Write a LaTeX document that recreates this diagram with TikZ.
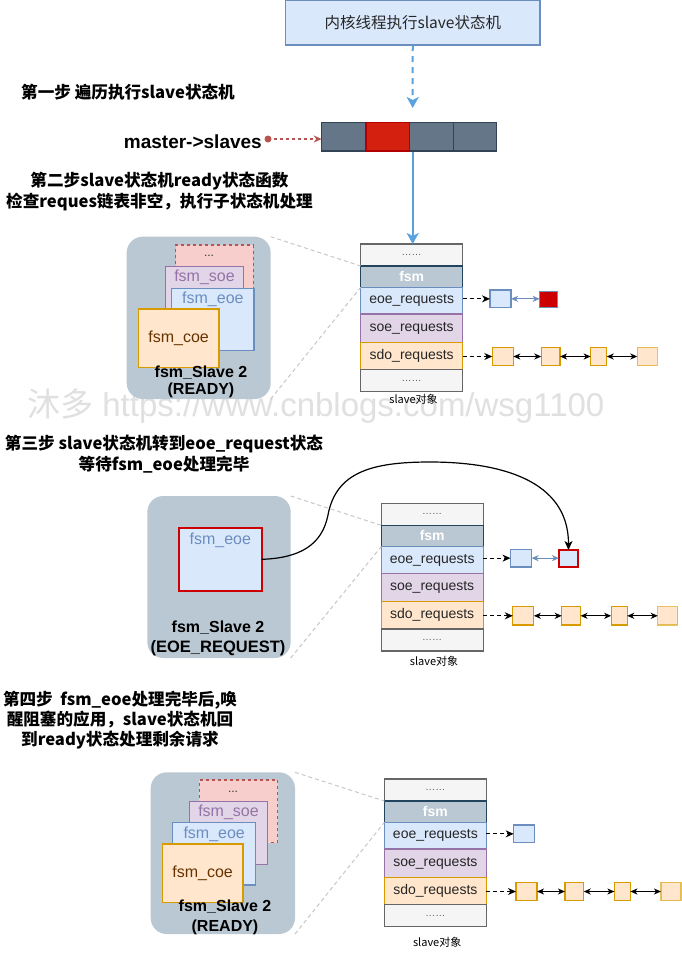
\documentclass[tikz,border=0pt]{standalone}
\usepackage{fontspec}
\setmainfont{Liberation Sans}
\newfontfamily\cjk{Noto Sans CJK SC}
\usetikzlibrary{arrows.meta}
\definecolor{bluefill}{HTML}{DAE8FC}
\definecolor{bluedraw}{HTML}{6C8EBF}
\definecolor{purfill}{HTML}{E1D5E7}
\definecolor{purdraw}{HTML}{9673A6}
\definecolor{orfill}{HTML}{FFE6CC}
\definecolor{ordraw}{HTML}{D79B00}
\definecolor{redfill}{HTML}{F8CECC}
\definecolor{reddraw}{HTML}{B85450}
\definecolor{grpfill}{HTML}{BAC8D3}
\definecolor{grpdraw}{HTML}{23445D}
\definecolor{lgfill}{HTML}{F5F5F5}
\definecolor{lgdraw}{HTML}{666666}
\definecolor{slate}{HTML}{647687}
\definecolor{slatedraw}{HTML}{314354}
\definecolor{hotred}{HTML}{D4200E}
\definecolor{hotreddraw}{HTML}{B20000}
\definecolor{deepred}{HTML}{CC0000}
\definecolor{arrowblue}{HTML}{5AA2DE}
\definecolor{coetext}{HTML}{663300}
\newcommand\drawbx[7]{\node[#1,anchor=north west,minimum width={(#5)-(#3)},minimum height={(#6)-(#4)}] (#2) at (#3,#4) {#7};}
\tikzset{
 bx/.style={inner sep=0pt,outer sep=0pt,line width=1.2pt},
 rowtxt/.style={font=\fontsize{14}{14}\selectfont,text=black!85},
 rowdots/.style={font=\fontsize{10}{10}\selectfont,text=black!65},
 fsmrow/.style={font=\bfseries\fontsize{14}{14}\selectfont,text=white},
 dasharr/.style={draw=black,dash pattern=on 4pt off 3pt,line width=1.2pt,-{Stealth[length=8pt,width=7pt,inset=2.5pt]}},
 dblarr/.style={draw=black,line width=1.2pt,{Stealth[length=7pt,width=6pt,inset=2pt]}-{Stealth[length=7pt,width=6pt,inset=2pt]}},
 grp/.style={bx,fill=grpfill,draw=none,rounded corners=16pt},
 gline/.style={draw=black!22,line width=1pt,dash pattern=on 4pt off 3pt},
 fsmt/.style={font=\fontsize{16}{16}\selectfont,inner sep=0pt},
 slabel/.style={font=\bfseries\fontsize{16}{16}\selectfont,inner sep=0pt},
 steptext/.style={font=\cjk\bfseries\fontsize{16.6}{21}\selectfont,align=center,inner sep=0pt},
 bluearr/.style={draw=arrowblue,line width=2pt,-{Stealth[length=11pt,width=12pt,inset=3pt]}},
 curvearr/.style={draw=black,line width=1.2pt,-{Stealth[length=9pt,width=8pt,inset=2.5pt]}},
}
\newcommand\slaveobj[4]{%
\begin{scope}[shift={(#2,#3)},name prefix=#1-]
\drawbx{bx,fill=lgfill,draw=lgdraw,rowdots}{top}{360.7}{244}{462.7}{266}{……}
\drawbx{bx,fill=grpfill,draw=grpdraw,fsmrow}{fsm}{360.7}{266}{462.7}{287.3}{fsm}
\drawbx{bx,fill=bluefill,draw=bluedraw,rowtxt}{eoe}{360.7}{287.3}{462.7}{314}{eoe\_requests}
\drawbx{bx,fill=purfill,draw=purdraw,rowtxt}{soe}{360.7}{314}{462.7}{342.3}{soe\_requests}
\drawbx{bx,fill=orfill,draw=ordraw,rowtxt}{sdo}{360.7}{342.3}{462.7}{369.7}{sdo\_requests}
\drawbx{bx,fill=lgfill,draw=lgdraw,rowdots}{bot}{360.7}{369.7}{462.7}{391.7}{……}
\node[font=\cjk\fontsize{11}{11}\selectfont,inner sep=0pt] (cap) at (413.5,#4) {slave对象};
\drawbx{bx,fill=bluefill,draw=bluedraw}{e1}{490}{290}{511}{307.7}{}
\drawbx{bx,fill=orfill,draw=ordraw}{b1}{492.3}{347.3}{513.3}{365.7}{}
\drawbx{bx,fill=orfill,draw=ordraw}{b2}{541.3}{347.3}{560}{365.7}{}
\drawbx{bx,fill=orfill,draw=ordraw}{b3}{590.7}{347.3}{606.7}{365.7}{}
\drawbx{bx,fill=orfill,draw=ordraw,draw opacity=0.6}{b4}{637.3}{347.3}{657.3}{365.7}{}
\draw[dasharr] (eoe.east |- e1.west) -- (e1.west);
\draw[dasharr] (sdo.east |- b1.west) -- (b1.west);
\draw[dblarr] (b1.east) -- (b2.west);
\draw[dblarr] (b2.east) -- (b3.west);
\draw[dblarr] (b3.east) -- (b4.west);
\end{scope}}
\begin{document}
\begin{tikzpicture}[x=1pt,y=-1pt]
\useasboundingbox[fill=white] (0,0) rectangle (682,954);
% watermark
\node[anchor=west,font=\fontsize{33}{33}\selectfont,text=black!12,inner sep=0pt] (wm) at (27,406) {{\cjk 沐多} https://www.cnblogs.com/wsg1100};
% top
\drawbx{bx,fill=bluefill,draw=bluedraw,font=\cjk\fontsize{15.5}{15.5}\selectfont,text=black!85}{tb}{285.5}{0.6}{540}{45}{内核线程执行slave状态机}
\coordinate (dashend) at (412.7,108);
\draw[bluearr,dash pattern=on 6pt off 5pt] (tb.south) -- (dashend);
\drawbx{bx,fill=slate,draw=slatedraw}{a1}{321.7}{122.3}{366}{151}{}
\drawbx{bx,fill=slate,draw=slatedraw}{a3}{409.3}{122.3}{453.3}{151}{}
\drawbx{bx,fill=slate,draw=slatedraw}{a4}{453.3}{122.3}{496.7}{151}{}
\drawbx{bx,fill=hotred,draw=hotreddraw}{a2}{366}{122.3}{409.3}{151}{}
\node[font=\bfseries\fontsize{19}{19}\selectfont,anchor=east,inner sep=0pt] (ms) at (262,142) {master->slaves};
\node[circle,fill=reddraw,inner sep=0pt,minimum size=7pt] (msdot) at (268,139) {};
\draw[draw=reddraw,line width=1.3pt,dash pattern=on 3pt off 3pt,-{Stealth[length=8pt,width=7pt,inset=2.5pt]}] (msdot.center) -- (msdot.center -| a1.west);
% steps
\node[steptext,anchor=west] (st1) at (21,92) {第一步 遍历执行slave状态机};
\node[steptext] (st2) at (159.5,191.5) {第二步slave状态机ready状态函数\\检查reques链表非空，执行子状态机处理};
\node[steptext] (st3) at (164,454.5) {第三步 slave状态机转到eoe\_request状态\\等待fsm\_eoe处理完毕};
\node[steptext,font=\cjk\bfseries\fontsize{16.6}{20}\selectfont] (st4) at (120,720) {第四步\ \ fsm\_eoe处理完毕后,唤\\醒阻塞的应用，slave状态机回\\到ready状态处理剩余请求};
% slave objects
\slaveobj{s1}{0}{0}{399.5}
\slaveobj{s2}{20.5}{259.3}{402.4}
\slaveobj{s3}{23.7}{535}{407}
\begin{scope}[name prefix=s1-]
\drawbx{bx,fill=deepred,draw=bluedraw}{e2}{539.7}{291.7}{557.3}{307.7}{}
\draw[dblarr,draw=bluedraw] (e1.east) -- (e1.east -| e2.west);
\end{scope}
\begin{scope}[shift={(20.5,259.3)},name prefix=s2-]
\drawbx{bx,fill=bluefill,draw=deepred,line width=1.5pt}{e2}{538.5}{290.7}{557.5}{307.7}{}
\draw[dblarr,draw=bluedraw] (e1.east) -- (e1.east -| e2.west);
\end{scope}
\coordinate (arrstart) at (412.7,152);
\draw[bluearr] (arrstart) -- (arrstart |- s1-top.north);
% group 1
\drawbx{grp}{g1}{126.7}{236.7}{270.7}{399}{}
\drawbx{bx,fill=redfill,draw=reddraw,dashed}{g1x}{175.7}{245}{253.3}{320}{}
\node[inner sep=0pt,font=\fontsize{12}{12}\selectfont,text=black!80] (g1xt) at (209,256) {...};
\drawbx{bx,fill=purfill,draw=purdraw}{g1s}{165.7}{266.7}{243.3}{330}{}
\node[fsmt,text=purdraw] (g1st) at (204.5,277) {fsm\_soe};
\drawbx{bx,fill=bluefill,draw=bluedraw}{g1e}{171.7}{288.3}{254}{350.7}{}
\node[fsmt,text=bluedraw] (g1et) at (212.9,299) {fsm\_eoe};
\drawbx{bx,fill=orfill,draw=ordraw}{g1c}{138.3}{309}{219}{367.3}{}
\node[fsmt,text=coetext] (g1ct) at (178.6,338) {fsm\_coe};
\node[slabel] (g1n) at (201,373) {fsm\_Slave 2};
\node[slabel] (g1r) at (201,390) {(READY)};
\draw[gline] (g1.north east) -- (s1-fsm.north west);
\draw[gline] (g1.south east) -- (s1-eoe.north west);
% group 2
\drawbx{grp}{g2}{147.3}{496}{290.7}{658}{}
\drawbx{bx,fill=bluefill,draw=deepred,line width=2.2pt}{g2e}{179}{528}{261.7}{590.7}{}
\node[fsmt,text=bluedraw] (g2et) at (220.3,540) {fsm\_eoe};
\node[slabel] (g2n) at (218,628) {fsm\_Slave 2};
\node[slabel,font=\bfseries\fontsize{16.5}{16.5}\selectfont] (g2r) at (218,648) {(EOE\_REQUEST)};
\draw[gline] (g2.north east) -- (s2-fsm.north west);
\draw[gline] (g2.south east) -- (s2-eoe.north west);
\draw[curvearr] (g2e.east) .. controls (300,558) and (322,545) .. (328,515) .. controls (336,472) and (372,462) .. (430,462) .. controls (500,462) and (568.5,480) .. (s2-e2.north);
% group 3
\drawbx{grp}{g3}{150.7}{772.3}{295}{934}{}
\drawbx{bx,fill=redfill,draw=reddraw,dashed}{g3x}{199.3}{780}{277.7}{842.7}{}
\node[inner sep=0pt,font=\fontsize{12}{12}\selectfont,text=black!80] (g3xt) at (233,792) {...};
\drawbx{bx,fill=purfill,draw=purdraw}{g3s}{189.3}{801.7}{267.7}{864.3}{}
\node[fsmt,text=purdraw] (g3st) at (228.5,812) {fsm\_soe};
\drawbx{bx,fill=bluefill,draw=bluedraw}{g3e}{172.7}{822.3}{255.7}{885}{}
\node[fsmt,text=bluedraw] (g3et) at (214.2,834) {fsm\_eoe};
\drawbx{bx,fill=orfill,draw=ordraw}{g3c}{162.3}{844}{243}{902.3}{}
\node[fsmt,text=coetext] (g3ct) at (202.6,873) {fsm\_coe};
\node[slabel] (g3n) at (225,907) {fsm\_Slave 2};
\node[slabel] (g3r) at (225,927) {(READY)};
\draw[gline] (g3.north east) -- (s3-fsm.north west);
\draw[gline] (g3.south east) -- (s3-eoe.north west);
\end{tikzpicture}
\end{document}
